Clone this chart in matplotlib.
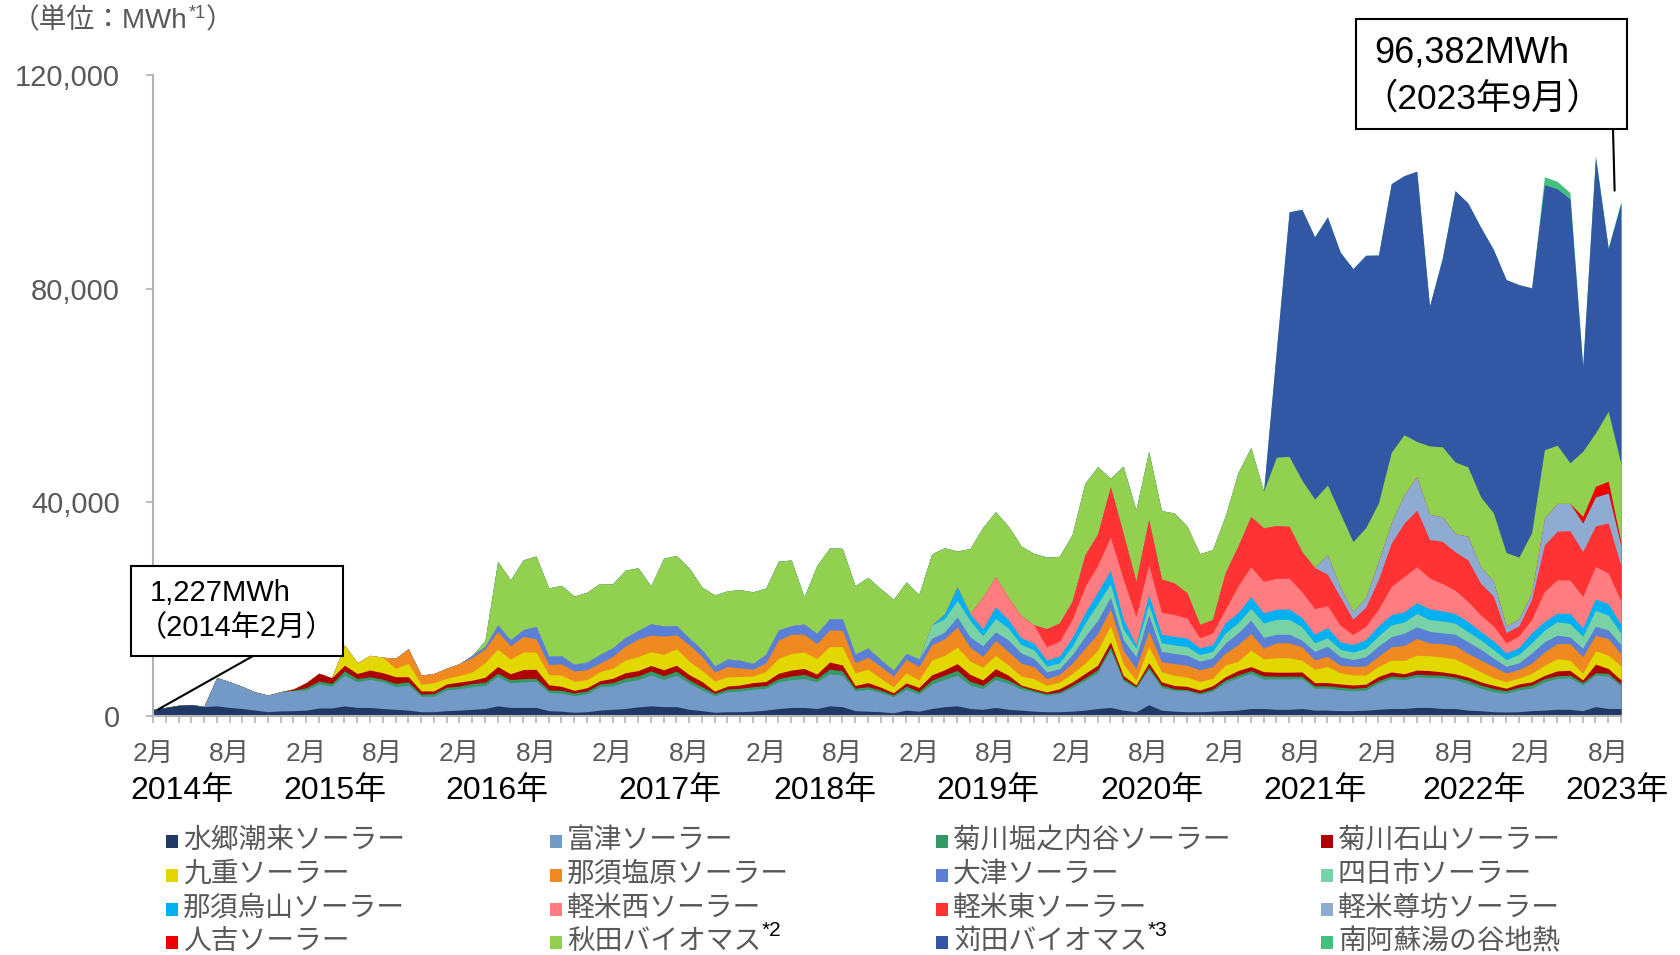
import matplotlib
matplotlib.use("Agg")
import matplotlib.pyplot as plt
from matplotlib.patches import Rectangle
import numpy as np

plt.rcParams["font.family"] = ["Liberation Sans", "Noto Sans CJK JP"]

W, H = 1681, 955

# ── 月次発電量（単位：千MWh、2014年2月〜2023年9月、1行＝12か月）──────────
suigo = [1.227, 1.6, 2.0, 2.1, 1.75, 1.9, 1.6, 1.4, 1.1, 0.8, 0.95, 1.0,
         1.1, 1.5, 1.5, 1.9, 1.6, 1.6, 1.4, 1.25, 1.1, 0.8, 0.8, 1.0,
         1.1, 1.25, 1.4, 1.9, 1.6, 1.6, 1.6, 1.0, 0.9, 0.7, 0.8, 1.1,
         1.25, 1.4, 1.7, 1.9, 1.75, 1.75, 1.25, 1.0, 0.7, 0.8, 0.8, 0.9,
         1.1, 1.4, 1.6, 1.6, 1.4, 1.9, 1.75, 1.0, 0.9, 0.8, 0.6, 1.1,
         0.9, 1.4, 1.75, 1.9, 1.4, 1.25, 1.6, 1.25, 1.1, 0.9, 0.8, 0.8,
         0.9, 1.1, 1.4, 1.6, 1.1, 0.8, 2.1, 1.1, 0.9, 0.8, 0.8, 0.9,
         1.0, 1.1, 1.4, 1.4, 1.25, 1.25, 1.4, 1.1, 1.1, 1.0, 1.0, 1.1,
         1.25, 1.4, 1.4, 1.6, 1.6, 1.4, 1.4, 1.1, 1.0, 0.8, 0.75, 0.8,
         1.0, 1.1, 1.25, 1.25, 1.0, 1.75, 1.4, 1.4]
futtsu = [0, 0, 0, 0, 0.1, 5.3, 4.8, 4.1, 3.4, 3.1, 3.6, 3.75,
          3.75, 4.5, 4.1, 5.75, 4.8, 5.25, 5.0, 4.25, 4.7, 2.9, 2.9, 3.9,
          4.0, 4.25, 4.3, 5.5, 4.6, 4.8, 4.9, 3.4, 3.4, 3.1, 3.4, 4.4,
          4.4, 5.0, 5.1, 5.8, 5.1, 5.9, 4.9, 3.9, 3.1, 3.75, 3.9, 4.1,
          4.1, 5.0, 5.2, 5.4, 5.0, 6.0, 5.9, 3.75, 4.1, 3.6, 3.0, 3.9,
          3.2, 4.6, 5.1, 5.75, 4.4, 3.9, 5.25, 4.9, 3.9, 3.6, 3.1, 3.4,
          4.4, 5.6, 6.7, 10.75, 5.5, 4.4, 6.6, 4.25, 3.9, 3.9, 3.25, 3.75,
          5.25, 6.1, 6.6, 5.5, 5.7, 5.7, 5.6, 4.1, 4.1, 3.9, 3.75, 3.75,
          4.9, 5.6, 5.4, 5.75, 5.6, 5.75, 5.4, 5.0, 4.2, 3.75, 3.5, 4.1,
          4.2, 5.3, 5.8, 5.9, 4.8, 5.9, 6.1, 4.2]
kikugawa_h = [0, 0, 0, 0, 0, 0, 0, 0, 0, 0, 0, 0.1,
              0.45, 0.55, 0.5, 0.8, 0.6, 0.5, 0.5, 0.6, 0.6, 0.4, 0.5, 0.5,
              0.5, 0.6, 0.6, 0.6, 0.6, 0.6, 0.55, 0.5, 0.5, 0.5, 0.5, 0.5,
              0.6, 0.7, 0.7, 0.75, 0.7, 0.75, 0.6, 0.6, 0.45, 0.5, 0.5, 0.5,
              0.5, 0.6, 0.7, 0.8, 0.6, 0.9, 0.8, 0.45, 0.5, 0.45, 0.35, 0.6,
              0.5, 0.7, 0.8, 0.9, 0.7, 0.6, 0.7, 0.6, 0.5, 0.3, 0.3, 0.3,
              0.45, 0.45, 0.6, 0.6, 0.4, 0.3, 0.5, 0.45, 0.3, 0.25, 0.3, 0.4,
              0.5, 0.5, 0.5, 0.6, 0.5, 0.5, 0.45, 0.45, 0.45, 0.5, 0.45, 0.5,
              0.5, 0.5, 0.5, 0.5, 0.5, 0.5, 0.5, 0.6, 0.6, 0.6, 0.5, 0.5,
              0.6, 0.6, 0.5, 0.5, 0.5, 0.45, 0.5, 0.4]
kikugawa_i = [0, 0, 0, 0, 0, 0, 0, 0, 0, 0, 0, 0.2,
              0.95, 1.45, 1.05, 1.05, 0.95, 1.25, 1.2, 1.25, 0.95, 0.6, 0.5, 0.6,
              0.75, 0.6, 0.95, 1.25, 1.1, 1.7, 1.7, 0.95, 0.75, 0.5, 0.6, 0.6,
              0.8, 1.0, 1.0, 1.0, 1.1, 1.1, 1.0, 0.95, 0.4, 0.55, 0.6, 0.75,
              0.75, 1.0, 1.1, 1.1, 0.85, 1.3, 1.1, 0.5, 0.75, 0.55, 0.4, 0.6,
              0.75, 1.0, 1.0, 1.25, 1.3, 1.0, 1.3, 0.9, 0.3, 0.3, 0.3, 0.6,
              0.6, 0.8, 0.8, 0.9, 0.6, 0.3, 0.75, 0.6, 0.6, 0.6, 0.5, 0.6,
              0.6, 0.8, 0.75, 0.8, 0.75, 0.75, 0.8, 0.6, 0.6, 0.6, 0.6, 0.6,
              0.75, 0.75, 0.6, 0.75, 0.8, 0.6, 0.6, 0.6, 0.6, 0.6, 0.45, 0.6,
              0.6, 0.6, 0.9, 0.9, 0.45, 1.6, 0.9, 0.75]
kokonoe = [0, 0, 0, 0, 0, 0, 0, 0, 0, 0, 0, 0,
           0, 0, 0, 3.75, 2.0, 2.75, 2.9, 1.55, 2.5, 1.25, 1.55, 1.05,
           1.25, 1.55, 2.75, 3.25, 2.75, 3.3, 3.2, 1.9, 2.1, 1.7, 1.5, 1.7,
           1.9, 2.4, 2.6, 2.6, 2.9, 3.1, 2.5, 2.1, 1.9, 1.75, 1.6, 1.25,
           1.9, 2.8, 3.1, 3.1, 2.9, 2.9, 3.4, 2.4, 2.5, 1.7, 1.1, 1.9,
           1.4, 2.8, 2.7, 3.1, 2.5, 2.4, 2.5, 1.9, 1.7, 1.9, 1.25, 1.25,
           1.6, 1.9, 2.8, 3.1, 2.2, 0.9, 3.1, 1.9, 1.9, 1.75, 1.6, 1.4,
           2.2, 1.75, 3.1, 2.4, 2.7, 2.7, 2.2, 2.5, 3.0, 2.1, 1.9, 1.7,
           1.9, 2.2, 2.5, 2.8, 2.75, 2.8, 2.8, 2.2, 1.9, 1.4, 1.25, 1.1,
           1.6, 1.9, 2.3, 1.9, 1.25, 2.5, 2.5, 2.6]
nasushiobara = [0, 0, 0, 0, 0, 0, 0, 0, 0, 0, 0, 0,
                0, 0, 0, 0, 0, 0, 0, 1.9, 2.75, 1.7, 1.7, 1.9,
                2.2, 2.7, 2.5, 3.3, 2.5, 2.9, 2.5, 1.9, 2.1, 1.9, 1.9, 1.6,
                2.2, 2.6, 3.3, 3.1, 3.4, 2.6, 3.1, 2.6, 1.7, 1.9, 1.6, 1.25,
                1.6, 3.4, 3.6, 3.3, 2.8, 3.1, 3.1, 1.9, 2.25, 2.2, 2.0, 2.5,
                2.5, 2.8, 3.1, 3.75, 2.6, 2.0, 2.8, 2.5, 2.4, 2.2, 1.25, 1.4,
                1.9, 2.8, 3.1, 3.1, 2.5, 2.2, 2.8, 1.9, 2.2, 2.2, 2.2, 2.2,
                2.2, 3.1, 3.1, 2.0, 2.8, 2.8, 2.5, 1.75, 1.9, 1.4, 1.6, 1.7,
                1.9, 2.5, 2.8, 3.1, 2.4, 2.5, 2.5, 2.2, 2.2, 2.1, 1.6, 1.6,
                1.9, 2.5, 2.8, 3.1, 3.1, 2.9, 3.1, 2.25]
otsu = [0, 0, 0, 0, 0, 0, 0, 0, 0, 0, 0, 0,
        0, 0, 0, 0, 0, 0, 0, 0, 0, 0, 0, 0,
        0, 0.4, 0.5, 1.25, 1.1, 1.25, 2.3, 1.55, 1.5, 1.25, 1.4, 1.6,
        1.6, 1.6, 1.6, 2.1, 1.9, 1.75, 1.25, 1.25, 1.1, 1.4, 1.4, 1.1,
        1.6, 1.9, 1.6, 1.9, 1.9, 2.1, 2.1, 1.6, 1.7, 1.25, 1.1, 1.1,
        1.4, 1.25, 1.25, 1.9, 1.9, 2.0, 1.6, 2.2, 1.9, 1.6, 1.25, 1.1,
        1.6, 2.2, 2.5, 2.2, 2.0, 2.2, 3.1, 1.9, 1.9, 1.9, 1.6, 1.6,
        1.9, 2.2, 2.5, 2.0, 1.6, 1.6, 1.25, 1.6, 1.9, 1.6, 1.25, 1.75,
        1.9, 1.9, 2.3, 2.2, 2.2, 2.0, 2.1, 2.2, 2.0, 1.6, 1.25, 1.25,
        1.9, 1.9, 1.6, 1.25, 1.6, 1.7, 1.6, 1.7]
yokkaichi = [0] * 60 + [
             0, 2.5, 2.5, 3.1, 3.1, 1.9, 2.5, 2.2, 1.6, 1.6, 1.1, 1.1,
             1.6, 2.5, 3.1, 2.5, 2.0, 1.6, 1.9, 1.6, 1.6, 1.6, 1.25, 1.25,
             1.9, 1.9, 2.2, 2.7, 2.8, 2.8, 2.5, 1.6, 1.6, 1.4, 1.4, 1.6,
             1.9, 2.2, 2.1, 2.5, 2.2, 2.25, 2.1, 1.9, 1.75, 1.6, 1.25, 1.6,
             1.9, 2.2, 2.5, 2.5, 2.2, 3.0, 2.8, 2.2]
nasukarasuyama = [0] * 60 + [
                  0, 0, 0.9, 2.5, 1.25, 1.25, 2.2, 1.6, 1.25, 1.25, 1.1, 1.25,
                  1.6, 1.9, 2.2, 2.5, 1.9, 0.6, 1.9, 1.6, 1.6, 1.6, 1.25, 1.25,
                  1.9, 1.9, 2.2, 1.9, 1.9, 1.9, 1.75, 1.6, 1.9, 1.4, 1.4, 1.6,
                  1.9, 1.9, 1.9, 2.0, 2.0, 1.9, 1.75, 1.9, 1.6, 1.6, 1.25, 1.25,
                  1.9, 1.6, 1.6, 1.9, 1.6, 2.1, 2.1, 1.6]
karumai_w = [0] * 60 + [
             0, 0, 0, 0, 0, 5.9, 5.6, 4.1, 4.1, 3.4, 2.5, 2.8,
             3.4, 5.0, 5.0, 6.25, 7.5, 5.3, 5.6, 4.1, 4.1, 3.75, 1.9, 2.2,
             2.5, 5.0, 5.6, 5.9, 5.75, 5.8, 4.8, 4.8, 4.1, 3.1, 1.9, 2.5,
             3.1, 5.3, 6.6, 6.75, 5.8, 5.1, 4.4, 3.75, 3.1, 2.8, 1.9, 2.2,
             2.5, 5.6, 6.25, 6.25, 5.9, 6.1, 5.75, 4.4]
karumai_e = [0] * 60 + [
             0, 0, 0, 0, 0, 0, 0, 0, 0, 0, 3.4, 3.4,
             3.4, 5.9, 5.9, 9.4, 8.5, 6.6, 8.4, 6.25, 5.9, 4.7, 2.5, 2.5,
             6.9, 7.5, 9.4, 10.0, 9.9, 9.7, 7.5, 7.7, 5.9, 5.3, 2.9, 3.6,
             5.6, 8.1, 10.0, 10.6, 7.2, 7.9, 7.2, 7.8, 5.9, 5.6, 1.9, 1.9,
             3.75, 8.75, 9.1, 9.25, 8.4, 7.6, 9.4, 6.6]
karumai_s = [0] * 84 + [
             0, 0, 0, 0, 0, 0, 0, 0, 3.6, 1.9, 1.4, 1.75,
             3.4, 3.75, 5.3, 6.25, 4.7, 4.6, 3.4, 4.4, 3.1, 2.8, 1.25, 1.25,
             1.25, 5.0, 5.2, 5.1, 5.3, 5.4, 5.6, 3.75]
hitoyoshi = [0] * 108 + [0, 0, 0, 0, 1.25, 2.0, 2.2, 0.6]
akita = [0] * 24 + [
         0, 0, 1.1, 11.9, 11.25, 13.1, 13.2, 12.8, 13.2, 12.8, 13.1, 13.3,
         12.0, 12.6, 11.75, 7.1, 12.7, 13.1, 13.1, 11.75, 13.3, 12.8, 13.25, 13.4,
         12.4, 12.9, 12.3, 5.1, 12.7, 13.25, 13.25, 12.8, 13.25, 13.3, 13.3, 13.4,
         12.1, 13.3, 12.4, 6.75, 12.2, 13.1, 12.2, 13.4, 13.1, 13.4, 13.4, 12.5,
         12.5, 13.4, 12.6, 1.6, 12.6, 13.4, 12.8, 12.8, 13.1, 12.5, 13.25, 13.1,
         10.6, 13.75, 12.9, 6.9, 12.8, 13.1, 13.4, 12.8, 13.1, 13.75, 13.1, 13.1,
         10.9, 13.25, 11.25, 6.6, 12.8, 13.1, 13.4, 13.0, 13.1, 12.8, 13.75, 11.6,
         11.25, 12.8, 10.9, 7.6, 12.2, 10.0, 13.1, 14.7]
kanda = [0] * 84 + [
         0, 0, 0, 0, 20.0, 45.8, 50.7, 49.1, 50.2, 48.9, 51.1, 51.0,
         46.4, 50.3, 48.5, 50.6, 26.2, 35.3, 50.8, 49.4, 50.5, 49.3, 51.1, 51.0,
         45.8, 49.6, 48.0, 49.4, 15.9, 51.6, 30.4, 48.9]
minamiaso = [0] * 108 + [0, 1.5, 1.4, 1.2, 0.1, 0.3, 0.3, 0.3]

series = [suigo, futtsu, kikugawa_h, kikugawa_i, kokonoe, nasushiobara, otsu,
          yokkaichi, nasukarasuyama, karumai_w, karumai_e, karumai_s,
          hitoyoshi, akita, kanda, minamiaso]
names = ["水郷潮来ソーラー", "富津ソーラー", "菊川堀之内谷ソーラー", "菊川石山ソーラー",
         "九重ソーラー", "那須塩原ソーラー", "大津ソーラー", "四日市ソーラー",
         "那須烏山ソーラー", "軽米西ソーラー", "軽米東ソーラー", "軽米尊坊ソーラー",
         "人吉ソーラー", "秋田バイオマス", "苅田バイオマス", "南阿蘇湯の谷地熱"]
notes = {13: "*2", 14: "*3"}
colors = ["#203864", "#7399C6", "#339966", "#AD0000",
          "#E2D800", "#F0891F", "#5B7FD4", "#78D2A6",
          "#00B0F0", "#FF7C80", "#FF3333", "#8EACD2",
          "#EE0000", "#92D050", "#3257A5", "#45C17D"]

month_labels = ["2月", "8月"]
years = ["2014年", "2015年", "2016年", "2017年", "2018年",
         "2019年", "2020年", "2021年", "2022年", "2023年"]
first_label = ("1,227MWh", "（2014年2月）")
last_label = ("96,382MWh", "（2023年9月）")

GRAY = "#595959"
AXIS = "#B3B3B3"


def fx(px):
    return px / W


def fy(py):
    return 1 - py / H


x = np.arange(len(suigo))
vals = np.array(series) * 1000          # 千MWh → MWh
tops = np.cumsum(vals, axis=0)

fig = plt.figure(figsize=(W / 100, H / 100), dpi=100)
ax = fig.add_axes([fx(153), fy(716), fx(1621) - fx(153), fy(75) - fy(716)])

# 上の層から順に 0 から累積値まで塗る（層の境目に隙間が出ないように）
for k in range(len(series) - 1, -1, -1):
    ax.fill_between(x, 0, tops[k], color=colors[k], linewidth=0)

ax.set_xlim(0, len(x) - 1)
ax.set_ylim(0, 120000)
for s in ["top", "right"]:
    ax.spines[s].set_visible(False)
for s in ["left", "bottom"]:
    ax.spines[s].set_color(AXIS)
    ax.spines[s].set_linewidth(1.5)

ax.set_yticks([0, 40000, 80000, 120000])
ax.set_yticklabels([f"{v:,}" for v in [0, 40000, 80000, 120000]])
ax.tick_params(axis="y", length=5, width=1.2, color=AXIS, labelsize=21,
               labelcolor=GRAY, pad=19)

ax.set_xticks(np.arange(0, len(x), 6))
ax.set_xticklabels([month_labels[j % 2] for j in range(len(ax.get_xticks()))])
ax.set_xticks(x, minor=True)
ax.tick_params(axis="x", which="both", length=5, width=1.2, color=AXIS,
               labelsize=19, labelcolor=GRAY, pad=14)

year_px = [182, 335, 497, 670, 825, 988, 1152, 1315, 1474, 1617]
for lab, px in zip(years, year_px):
    fig.text(fx(px), fy(791), lab, ha="center", va="center", fontsize=23,
             color="black")

# 単位
renderer = fig.canvas.get_renderer()
t = fig.text(fx(12), fy(21), "（単位：MWh", ha="left", va="center",
             fontsize=20, color=GRAY)
bb = t.get_window_extent(renderer)
t2 = fig.text(bb.x1 / W + 0.0005, fy(14), "*1", ha="left", va="center",
              fontsize=13, color=GRAY)
bb2 = t2.get_window_extent(renderer)
fig.text(bb2.x1 / W, fy(21), "）", ha="left", va="center", fontsize=20,
         color=GRAY)

# 吹き出し：初月
fig.add_artist(Rectangle((fx(131), fy(656)), fx(343) - fx(131), fy(566) - fy(656),
                         transform=fig.transFigure, facecolor="white",
                         edgecolor="black", linewidth=1.5))
fig.text(fx(150), fy(593), first_label[0], ha="left", va="center",
         fontsize=21, color="black")
fig.text(fx(138), fy(628), first_label[1], ha="left", va="center",
         fontsize=21, color="black")
ax.annotate("", xy=(0.4, tops[-1][0]), xycoords="data",
            xytext=(fx(253), fy(656)), textcoords="figure fraction",
            arrowprops=dict(arrowstyle="-", color="black", lw=1.5,
                            shrinkA=0, shrinkB=0))

# 吹き出し：最終月
fig.add_artist(Rectangle((fx(1356), fy(129)), fx(1627) - fx(1356), fy(19) - fy(129),
                         transform=fig.transFigure, facecolor="white",
                         edgecolor="black", linewidth=1.5))
fig.text(fx(1374), fy(53), last_label[0], ha="left", va="center",
         fontsize=26, color="black")
fig.text(fx(1362), fy(99), last_label[1], ha="left", va="center",
         fontsize=25.5, color="black")
ax.annotate("", xy=(114.5, tops[-1][-1] + 2000), xycoords="data",
            xytext=(fx(1613), fy(129)), textcoords="figure fraction",
            arrowprops=dict(arrowstyle="-", color="black", lw=1.5,
                            shrinkA=0, shrinkB=0))

# 凡例（4列×4行、行方向に並べる）
col_px = [172, 556, 942, 1327]
row_px = [841, 875, 909, 942]
for k, name in enumerate(names):
    cx, cy = col_px[k % 4], row_px[k // 4]
    fig.add_artist(Rectangle((fx(cx - 6), fy(cy + 7)), fx(12), 13 / H,
                             transform=fig.transFigure, facecolor=colors[k],
                             edgecolor="none"))
    lt = fig.text(fx(cx + 11), fy(cy), name, ha="left", va="center",
                  fontsize=20, color=GRAY)
    if k in notes:
        lb = lt.get_window_extent(renderer)
        fig.text(lb.x1 / W, fy(cy - 12), notes[k], ha="left", va="center",
                 fontsize=15, color="black")

fig.savefig("out.png", dpi=100)
